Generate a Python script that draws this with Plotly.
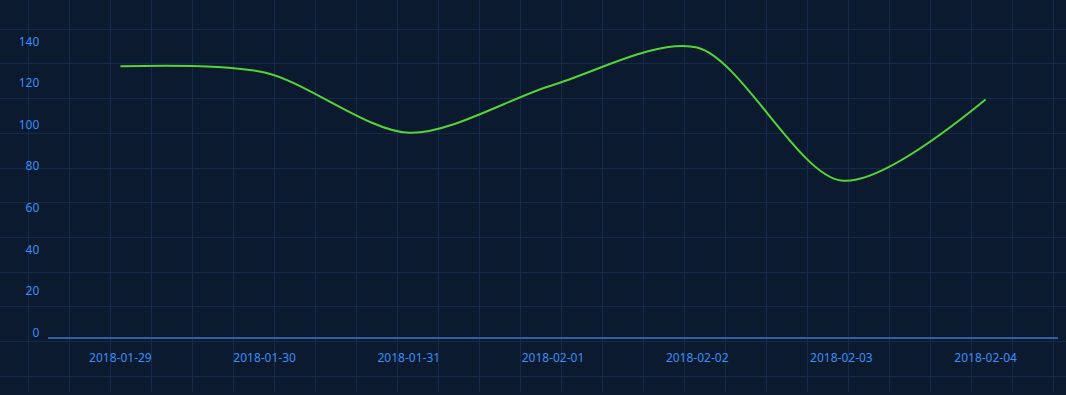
import plotly.graph_objects as go

categories = ["2018-01-29", "2018-01-30", "2018-01-31", "2018-02-01",
              "2018-02-02", "2018-02-03", "2018-02-04"]
values = [130.5, 127.5, 98.5, 121.5, 139.5, 75.5, 114.5]
y_ticks = [0, 20, 40, 60, 80, 100, 120, 140]

W, H = 1066, 395
BG = "#0b1a2f"
GRID = "#142b4c"
LABEL = "#3d8ef5"
AXIS = "#2f5f9e"
LINE = "#57d336"
FONT = "Noto Sans"

fig = go.Figure()

# background decorative grid (full-canvas pixel axes)
fig.add_trace(go.Scatter(x=[0], y=[0], mode="markers", marker=dict(opacity=0),
                         hoverinfo="skip", showlegend=False, xaxis="x", yaxis="y"))

fig.add_trace(go.Scatter(
    x=categories, y=values, mode="lines",
    line=dict(color=LINE, width=2, shape="spline", smoothing=0.85),
    showlegend=False, xaxis="x2", yaxis="y2",
))

fig.update_layout(
    width=W, height=H,
    margin=dict(l=0, r=0, t=0, b=0),
    paper_bgcolor=BG, plot_bgcolor="rgba(0,0,0,0)",
    font=dict(family=FONT, size=12, color=LABEL),
    xaxis=dict(domain=[0, 1], range=[0, W], tick0=28.3, dtick=41,
               showgrid=True, gridcolor=GRID, gridwidth=1,
               showticklabels=False, zeroline=False, showline=False, fixedrange=True),
    yaxis=dict(domain=[0, 1], range=[H, 0], tick0=29.3, dtick=35,
               showgrid=True, gridcolor=GRID, gridwidth=1,
               showticklabels=False, zeroline=False, showline=False, fixedrange=True),
    xaxis2=dict(domain=[48.3 / W, 1057.7 / W], anchor="y2", type="category",
                range=[-0.5, len(categories) - 0.5],
                showgrid=False, zeroline=False, showline=True, linecolor=AXIS, linewidth=2,
                ticks="", ticklabelstandoff=8,
                tickfont=dict(color=LABEL, size=12, family=FONT)),
    yaxis2=dict(domain=[(H - 340) / H, (H - 5) / H], anchor="x2", range=[0, 160],
                tickvals=y_ticks, showgrid=False, zeroline=False, showline=False,
                ticks="", ticklabelshift=-5, ticklabelstandoff=8,
                tickfont=dict(color=LABEL, size=12, family=FONT)),
)

fig.write_html("out.html")
